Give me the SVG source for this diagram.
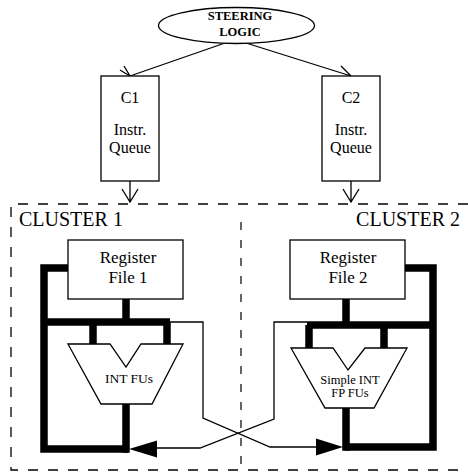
<svg xmlns="http://www.w3.org/2000/svg" width="468" height="472" viewBox="0 0 468 472">
<defs>
<style>
.t{font-family:"Liberation Serif","Times New Roman",serif;fill:#000;text-anchor:middle}
.box{fill:#fff;stroke:#000;stroke-width:1.3}
.thin{fill:none;stroke:#000;stroke-width:1.3}
.thick{fill:none;stroke:#000;stroke-width:7.5;stroke-linejoin:miter;stroke-linecap:butt}
.dash{fill:none;stroke:#000;stroke-width:1.3;stroke-dasharray:10 10}
.vdash{fill:none;stroke:#000;stroke-width:1.2;stroke-dasharray:8 10}
</style>
</defs>
<rect width="468" height="472" fill="#fff"/>

<g id="cluster-frame">
<path class="dash" d="M468,204 H11 V470 H468"/>
<path class="vdash" d="M241,222 V470"/>
<text class="t" x="19" y="226" font-size="20" style="text-anchor:start">CLUSTER 1</text>
<text class="t" x="460" y="226" font-size="20" style="text-anchor:end">CLUSTER 2</text>
</g>

<g id="connectors">
<path class="thin" d="M225,43 L130,76 M120,70 L130,76 L124,66"/>
<path class="thin" d="M246,43 L351,76 M341,66 L351,76 L345,70"/>
<path class="thin" d="M130,181 V202 M122,189 L130,202 L138,189"/>
<path class="thin" d="M351,181 V202 M343,189 L351,202 L359,189"/>
<path class="thick" d="M68,268 H44 V449 H128"/>
<path class="thick" d="M126,299 V322 M44,322 H170 M93,322 V344 M167,322 V344 M126,404 V452.75"/>
<path class="thick" d="M405,268 H433 V447 H345"/>
<path class="thick" d="M346,299 V325 M307,325 H433 M309,325 V348 M384,325 V348 M346,408 V450.75"/>
<path class="thin" d="M170,322 H203 V418 L270,447 H318"/>
<polygon points="343,447 316,438.5 316,455.5" fill="#000"/>
<path class="thin" d="M307,322 H274 V419 L200,448 H157"/>
<polygon points="129,449 157,440.5 157,457.5" fill="#000"/>
</g>

<g id="steering-logic">
<ellipse cx="236.5" cy="25.5" rx="78" ry="18" class="box"/>
<text class="t" x="240" y="20" font-size="12.5" font-weight="bold">STEERING</text>
<text class="t" x="240" y="36" font-size="12.5" font-weight="bold">LOGIC</text>
</g>

<g id="c1-queue">
<rect x="101" y="76" width="58" height="105" class="box"/>
<text class="t" x="130" y="103" font-size="16">C1</text>
<text class="t" x="130" y="135" font-size="16">Instr.</text>
<text class="t" x="130" y="153" font-size="16">Queue</text>
</g>

<g id="c2-queue">
<rect x="322" y="76" width="58" height="105" class="box"/>
<text class="t" x="351" y="103" font-size="16">C2</text>
<text class="t" x="351" y="135" font-size="16">Instr.</text>
<text class="t" x="351" y="153" font-size="16">Queue</text>
</g>

<g id="register-file-1">
<rect x="68" y="240" width="115" height="59" class="box"/>
<text class="t" x="128" y="263" font-size="17">Register</text>
<text class="t" x="128" y="283" font-size="17">File 1</text>
</g>

<g id="register-file-2">
<rect x="290" y="240" width="115" height="59" class="box"/>
<text class="t" x="348" y="263" font-size="17">Register</text>
<text class="t" x="348" y="283" font-size="17">File 2</text>
</g>

<g id="int-fus">
<path class="box" d="M68,344 H110 L126,367 L141,344 H183 L152,404 H101 Z"/>
<text class="t" x="129" y="383" font-size="13.5">INT FUs</text>
</g>

<g id="fp-fus">
<path class="box" d="M291,348 H333 L348,370 L365,348 H407 L374,408 H325 Z"/>
<text class="t" x="350" y="384" font-size="12.5">Simple INT</text>
<text class="t" x="350" y="396.5" font-size="12.5">FP FUs</text>
</g>
</svg>
